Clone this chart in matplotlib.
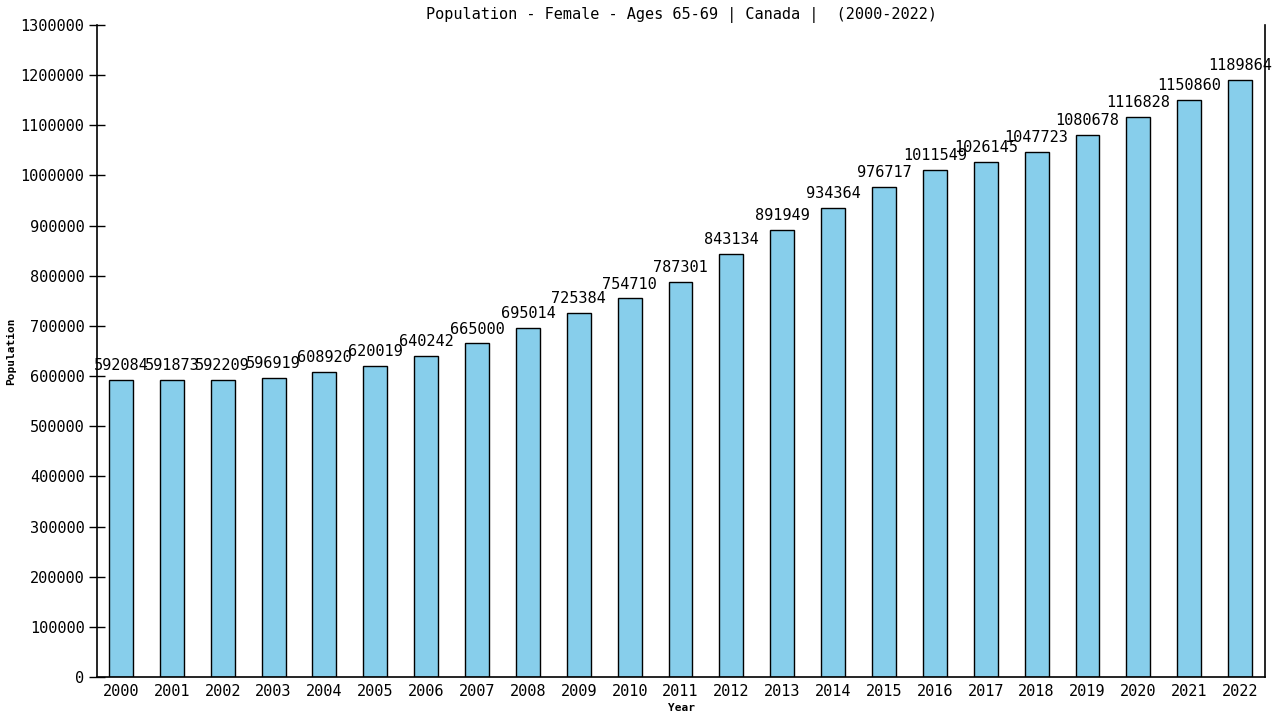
import matplotlib
matplotlib.use('Agg')
import matplotlib.pyplot as plt

# data
years = [str(y) for y in range(2000, 2023)]
population = [592084, 591873, 592209, 596919, 608920, 620019, 640242, 665000,
              695014, 725384, 754710, 787301, 843134, 891949, 934364, 976717,
              1011549, 1026145, 1047723, 1080678, 1116828, 1150860, 1189864]
yticks = list(range(0, 1300001, 100000))

plt.rcParams['font.family'] = ['DejaVu Sans Mono']

fig = plt.figure(figsize=(12.8, 7.2), dpi=100)
ax = fig.add_axes([0.0758, 0.0597, 0.9125, 0.9056])

x = list(range(len(years)))
ax.bar(x, population, width=0.47, color='#87CEEB', edgecolor='black', linewidth=1.0)

for xi, v in zip(x, population):
    ax.annotate(str(v), (xi, v), xytext=(0, 5), textcoords='offset points',
                ha='center', va='bottom', fontsize=11)

ax.set_xlim(-0.47, 22.49)
ax.set_ylim(0, 1300000)
ax.set_xticks(x)
ax.set_xticklabels(years, fontsize=11)
ax.set_yticks(yticks)
ax.set_yticklabels([str(t) for t in yticks], fontsize=11)
ax.tick_params(axis='x', length=0, pad=5)
ax.tick_params(axis='y', direction='inout', length=12, width=1, pad=3)

ax.spines['top'].set_visible(False)
for s in ['left', 'right', 'bottom']:
    ax.spines[s].set_linewidth(1.2)

ax.set_title('Population - Female - Ages 65-69 | Canada |  (2000-2022)',
             fontsize=11, pad=4)
ax.set_xlabel('Year', fontsize=8, fontweight='bold', labelpad=3)
ax.set_ylabel('Population', fontsize=8, fontweight='bold', labelpad=3)

fig.savefig('out.png', dpi=100)
